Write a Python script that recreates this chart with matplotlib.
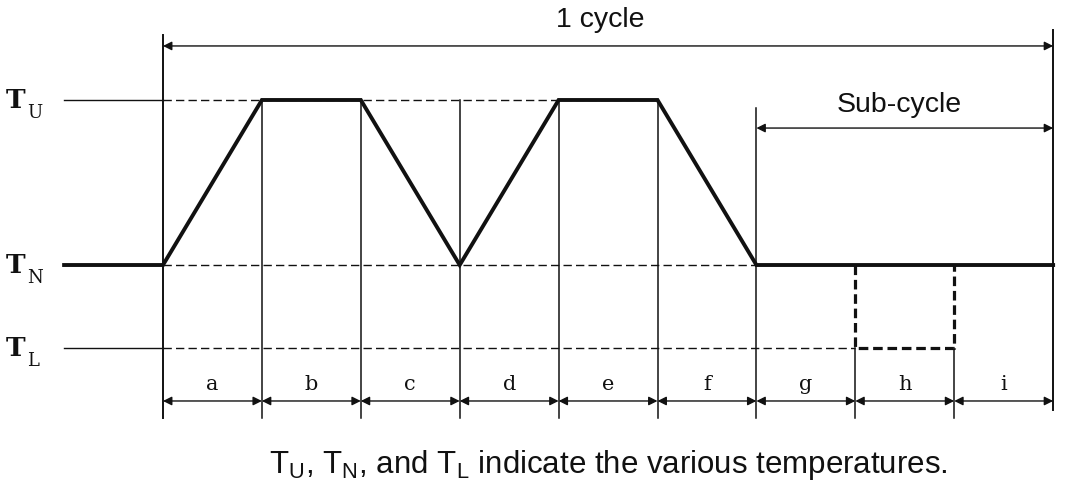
import matplotlib.pyplot as plt

# phase boundaries (time units) and phase names
bounds = [0, 1, 2, 3, 4, 5, 6, 7, 8, 9]
phases = ['a', 'b', 'c', 'd', 'e', 'f', 'g', 'h', 'i']

# temperature levels
levels = {'U': 2.0, 'N': 0.0, 'L': -1.0}

# temperature profile
prof_t = [-1, 0, 1, 2, 3, 4, 5, 6, 9]
prof_T = [0, 0, 2, 2, 0, 2, 2, 0, 0]

# alternative excursion during phase h
alt_t = [7, 7, 8, 8]
alt_T = [0, -1, -1, 0]

sans = 'Liberation Sans'
serif = 'DejaVu Serif'
plt.rcParams['mathtext.fontset'] = 'custom'
plt.rcParams['mathtext.rm'] = sans
plt.rcParams['mathtext.it'] = sans

fig = plt.figure(figsize=(10.65, 4.91), dpi=100)
ax = fig.add_axes([0, 0, 1, 1])
ax.set_xlim(-1.648, 9.12)
ax.set_ylim(-2.739, 3.212)
ax.axis('off')

k = '#111111'
y_dim = -1.648
y_bot = -1.855

# level lines: solid reference on the left, dashed across the chart
ax.plot([-1, 0], [levels['U']] * 2, color=k, lw=1.0)
ax.plot([0, 5], [levels['U']] * 2, color=k, lw=1.0, ls=(0, (6, 3)))
ax.plot([0, 6], [levels['N']] * 2, color=k, lw=1.0, ls=(0, (6, 3)))
ax.plot([-1, 0], [levels['L']] * 2, color=k, lw=1.0)
ax.plot([0, 7], [levels['L']] * 2, color=k, lw=1.0, ls=(0, (6, 3)))

# vertical boundary lines
ax.plot([0, 0], [2.79, y_bot], color=k, lw=1.4)
ax.plot([9, 9], [2.85, -1.76], color=k, lw=1.4)
for b in bounds[1:-1]:
    if b == 6:
        top = 1.90
    elif b in (7, 8):
        top = levels['L']
    else:
        top = levels['U']
    ax.plot([b, b], [top, y_bot], color=k, lw=1.1)

# profile
ax.plot(prof_t, prof_T, color=k, lw=2.8, solid_joinstyle='miter')
ax.plot(alt_t, alt_T, color=k, lw=2.3, ls=(0, (3, 1.5)))

arrow = dict(arrowstyle='<|-|>', color=k, lw=1.0, mutation_scale=13,
             shrinkA=0, shrinkB=0)

# phase dimension arrows
for i, p in enumerate(phases):
    ax.annotate('', xy=(bounds[i], y_dim), xytext=(bounds[i + 1], y_dim),
                arrowprops=arrow)
    ax.text((bounds[i] + bounds[i + 1]) / 2, -1.52, p, family=serif,
            fontsize=15, ha='center', va='baseline', color=k)

# cycle arrows
ax.annotate('', xy=(0, 2.655), xytext=(9, 2.655), arrowprops=arrow)
ax.text(4.42, 2.89, '1 cycle', family=sans, fontsize=20.5, ha='center',
        va='baseline', color=k)
ax.annotate('', xy=(6, 1.66), xytext=(9, 1.66), arrowprops=arrow)
ax.text(7.44, 1.855, 'Sub-cycle', family=sans, fontsize=20.5, ha='center',
        va='baseline', color=k)

# level labels
for name, v in levels.items():
    ax.text(-1.49, v - 0.1, 'T', family=serif, fontsize=19, ha='center',
            va='baseline', color=k, weight='bold')
    ax.text(-1.37, v - 0.22, name, family=serif, fontsize=13, ha='left',
            va='baseline', color=k)

# caption
ax.text(4.50, -2.52,
        r'T$_\mathrm{U}$, T$_\mathrm{N}$, and T$_\mathrm{L}$ indicate the various temperatures.',
        family=sans, fontsize=22.5, ha='center', va='baseline', color=k)

fig.savefig('out.png', dpi=100)
